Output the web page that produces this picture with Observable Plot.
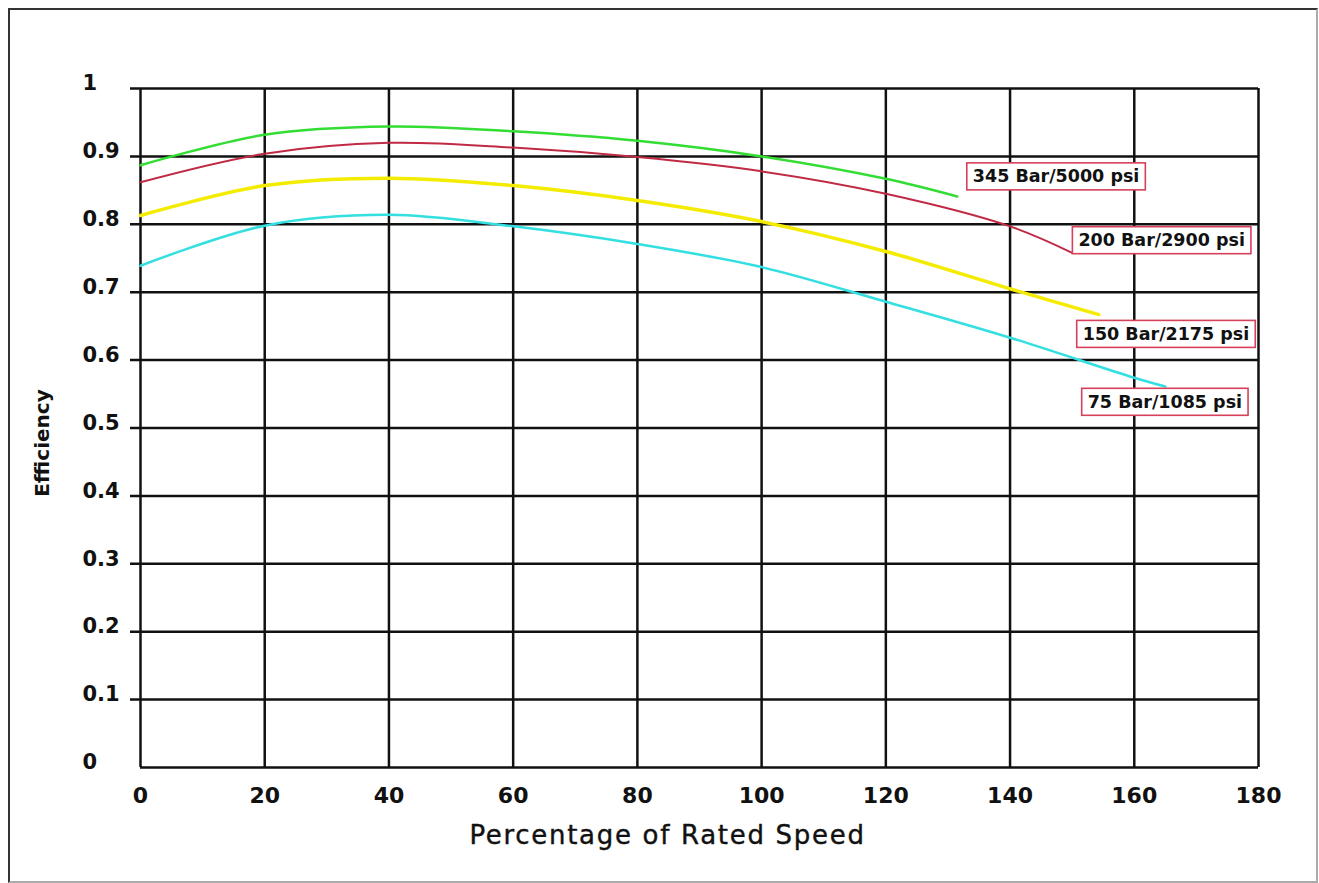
<!DOCTYPE html>
<html>
<head>
<meta charset="utf-8">
<script src="https://cdn.jsdelivr.net/npm/d3@7"></script>
<script src="https://cdn.jsdelivr.net/npm/@observablehq/plot@0.6"></script>
<style>
  html, body { margin: 0; padding: 0; background: #fff; }
  #wrap { position: relative; width: 1319px; height: 883px; overflow: hidden; }
  #border { position: absolute; left: 8px; top: 8px; width: 1306px; height: 871px;
            border: 2px solid #333; border-right-color: #aaa; border-bottom-color: #aaa; pointer-events: none; }
</style>
</head>
<body>
<div id="wrap"><div id="border"></div></div>
<script>
// ---- data ----
const xTicks = [0, 20, 40, 60, 80, 100, 120, 140, 160, 180];
const yTicks = [0, 0.1, 0.2, 0.3, 0.4, 0.5, 0.6, 0.7, 0.8, 0.9, 1];
const yTickLabels = ["0", "0.1", "0.2", "0.3", "0.4", "0.5", "0.6", "0.7", "0.8", "0.9", "1"];

const speed345 = [0, 20, 40, 60, 80, 100, 120, 131.5];
const eff345   = [0.887, 0.932, 0.944, 0.937, 0.923, 0.900, 0.867, 0.841];

const speed200 = [0, 20, 40, 60, 80, 100, 120, 140, 150];
const eff200   = [0.862, 0.904, 0.920, 0.913, 0.899, 0.878, 0.845, 0.797, 0.758];

const speed150 = [0, 20, 40, 60, 80, 100, 120, 140, 154.3];
const eff150   = [0.813, 0.857, 0.868, 0.857, 0.835, 0.804, 0.760, 0.705, 0.667];

const speed75  = [0, 20, 40, 60, 80, 100, 120, 140, 160, 165];
const eff75    = [0.739, 0.798, 0.814, 0.797, 0.771, 0.737, 0.686, 0.633, 0.574, 0.561];

const seriesNames  = ["345 Bar/5000 psi", "200 Bar/2900 psi", "150 Bar/2175 psi", "75 Bar/1085 psi"];
const seriesColors = ["#33dd33", "#c02a44", "#f4ec00", "#33dfe0"];
const seriesWidths = [2.5, 2, 3.5, 2.5];

// label anchor positions (data units)
const labelX = [134, 151, 151.7, 152.5];
const labelY = [0.870, 0.776, 0.638, 0.538];

const xTitle = "Percentage of Rated Speed";
const yTitle = "Efficiency";

const allSeries = [[speed345, eff345], [speed200, eff200], [speed150, eff150], [speed75, eff75]];
const rows = allSeries.map(([xs, ys], i) => xs.map((x, j) => ({series: seriesNames[i], x, y: ys[j]})));
const labels = seriesNames.map((name, i) => ({name, x: labelX[i], y: labelY[i]}));

const font = "'DejaVu Sans', sans-serif";

const chart = Plot.plot({
  width: 1319,
  height: 883,
  marginLeft: 140,
  marginRight: 61,
  marginTop: 88,
  marginBottom: 116,
  style: {fontFamily: font, background: "transparent", overflow: "visible"},
  x: {type: "linear", domain: [0, 180], axis: null},
  y: {type: "linear", domain: [0, 1], axis: null},
  marks: [
    Plot.ruleX(xTicks, {x: d => d, y1: 0, y2: 1, stroke: "#111", strokeWidth: 2.5}),
    Plot.ruleY(yTicks.filter(d => d > 0), {y: d => d, x1: 0, x2: 180, insetLeft: -10, stroke: "#111", strokeWidth: 2.5}),
    Plot.ruleY([0], {y: d => d, x1: 0, x2: 180, stroke: "#111", strokeWidth: 2.5}),
    ...rows.map((r, i) => Plot.line(r, {x: "x", y: "y", stroke: seriesColors[i], strokeWidth: seriesWidths[i], curve: "catmull-rom"})),
    Plot.text(xTicks, {x: d => d, frameAnchor: "bottom", dy: 28, lineAnchor: "middle", text: d => String(d),
      fontSize: 22, fontWeight: 600, fill: "#111"}),
    Plot.text(yTicks, {y: d => d, frameAnchor: "left", dx: -58, dy: -5, textAnchor: "start", lineAnchor: "middle",
      text: (d, i) => yTickLabels[i], fontSize: 21, fontWeight: 600, fill: "#111"}),
    Plot.text([xTitle], {frameAnchor: "bottom", textAnchor: "middle", dx: -32, dy: 68, lineAnchor: "middle",
      fontSize: 26, fill: "#111", stroke: "#111", strokeWidth: 0.4}),
    Plot.text([yTitle], {frameAnchor: "left", textAnchor: "middle", rotate: -90, dx: -98, dy: 15, lineAnchor: "middle",
      fontSize: 20, fontWeight: 600, fill: "#111"}),
    Plot.text(labels, {x: "x", y: "y", text: "name", textAnchor: "start", lineAnchor: "middle",
      fontSize: 17.5, fontWeight: 700, fill: "#111"})
  ]
});

document.getElementById("wrap").appendChild(chart);

// post-process: widen x title spacing, draw framed boxes behind series labels
const ns = "http://www.w3.org/2000/svg";
chart.querySelectorAll("text").forEach(t => {
  if (t.textContent === xTitle) {
    t.style.letterSpacing = "1.7px";
    return;
  }
  if (!seriesNames.includes(t.textContent)) return;
  const b = t.getBBox();
  const tr = t.getAttribute("transform");
  const r = document.createElementNS(ns, "rect");
  r.setAttribute("x", b.x - 6);
  r.setAttribute("y", b.y - 3.5);
  r.setAttribute("width", b.width + 12);
  r.setAttribute("height", b.height + 7);
  r.setAttribute("fill", "#fff");
  r.setAttribute("stroke", "#d6405a");
  r.setAttribute("stroke-width", "1.6");
  if (tr) r.setAttribute("transform", tr);
  t.parentNode.insertBefore(r, t);
});
</script>
</body>
</html>
